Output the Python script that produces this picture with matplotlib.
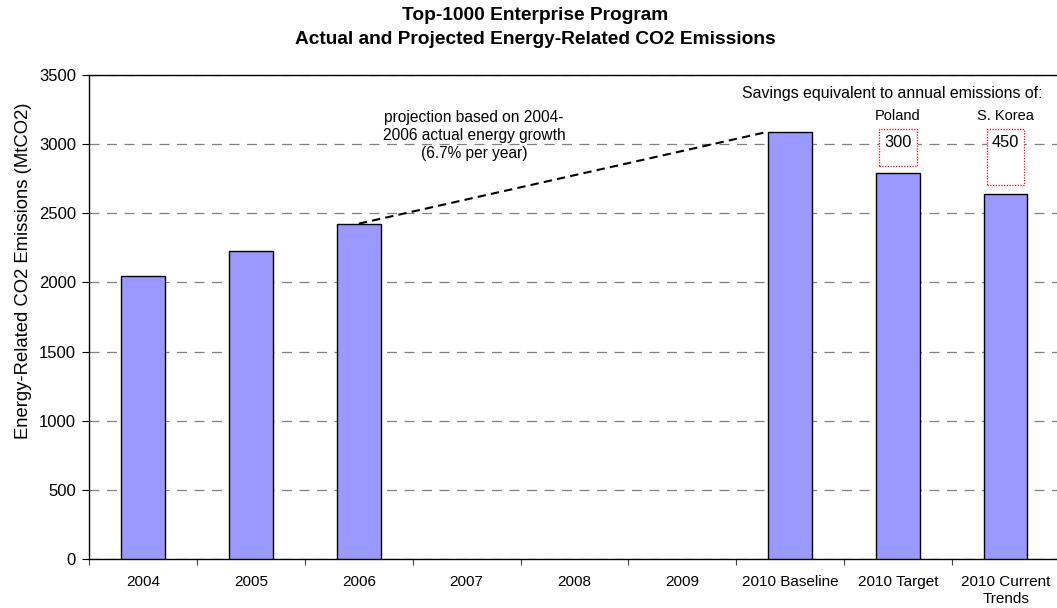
import numpy as np
import matplotlib
matplotlib.use("Agg")
import matplotlib.pyplot as plt
from matplotlib.patches import Rectangle
from matplotlib.ticker import FixedLocator, NullFormatter

plt.rcParams['font.family'] = ['Liberation Sans', 'DejaVu Sans']

categories = ["2004", "2005", "2006", "2007", "2008", "2009",
              "2010 Baseline", "2010 Target", "2010 Current\nTrends"]
emissions = [2046, 2230, 2425, None, None, None, 3090, 2790, 2640]
savings_countries = ["Poland", "S. Korea"]
savings_values = [300, 450]
savings_index = [7, 8]

bar_width = 0.405
bar_color = "#9999FF"

fig = plt.figure(figsize=(10.57, 6.08), dpi=100)
ax = fig.add_axes([89.3 / 1057, 1 - 559 / 608, (1059.5 - 89.3) / 1057, (559 - 75) / 608])

x = np.arange(len(categories))
heights = [np.nan if v is None else v for v in emissions]
ax.bar(x, heights, width=bar_width, color=bar_color, edgecolor="black",
       linewidth=1.0, zorder=3)

ax.set_xlim(-0.5, len(categories) - 0.5)
ax.set_ylim(0, 3500)
ax.set_yticks(np.arange(0, 3501, 500))
ax.yaxis.grid(True, color="#808080", linestyle=(0, (8, 6)), linewidth=0.9, zorder=0)
ax.set_axisbelow(True)

ax.set_xticks(x)
ax.set_xticklabels(categories, fontsize=11, linespacing=1.25)
ax.tick_params(axis="x", which="major", length=0, pad=11.5)
ax.xaxis.set_minor_locator(FixedLocator(np.arange(-0.5, len(categories), 1.0)))
ax.xaxis.set_minor_formatter(NullFormatter())
ax.tick_params(axis="x", which="minor", length=4, width=0.8, color="#444444")
ax.tick_params(axis="y", length=5, width=0.8, labelsize=12, pad=4.5)

for side in ("top", "left", "bottom"):
    ax.spines[side].set_linewidth(1.0)
ax.spines["right"].set_visible(False)

ax.set_ylabel("Energy-Related CO2 Emissions (MtCO2)", fontsize=13.3)
ax.yaxis.set_label_coords((32 - 89.3) / 970.2, (559 - 271) / 484)

# projection line from the 2006 value to the 2010 baseline bar
i06 = categories.index("2006")
ibase = categories.index("2010 Baseline")
ax.plot([i06, ibase - bar_width / 2], [emissions[i06], emissions[ibase]],
        color="black", linestyle=(0, (4, 2.5)), linewidth=1.5, zorder=4)
ax.text(3.07, 3066, "projection based on 2004-\n2006 actual energy growth\n(6.7% per year)",
        ha="center", va="center", fontsize=11.2, linespacing=1.25)

# savings boxes above the 2010 scenarios
base_val = emissions[ibase]
box_w = 0.35
for name, val, idx in zip(savings_countries, savings_values, savings_index):
    top = base_val + 20
    ax.add_patch(Rectangle((idx - box_w / 2, top - val * 0.9), box_w, val * 0.9,
                           facecolor="white", edgecolor="red", linestyle=(0, (1, 1.2)),
                           linewidth=0.9, zorder=5))
    ax.text(idx, 3012, str(val), ha="center", va="center", fontsize=11.8, zorder=6)
    ax.text(idx, 3205, name, ha="center", va="center", fontsize=10.5)

ax.text(6.95, 3363, "Savings equivalent to annual emissions of:",
        ha="center", va="center", fontsize=11.4)

fig.text(535 / 1057, 1 - 15 / 608, "Top-1000 Enterprise Program",
         ha="center", va="center", fontsize=13.8, fontweight="bold")
fig.text(535 / 1057, 1 - 40 / 608, "Actual and Projected Energy-Related CO2 Emissions",
         ha="center", va="center", fontsize=13.8, fontweight="bold")

fig.savefig("out.png", dpi=100)
